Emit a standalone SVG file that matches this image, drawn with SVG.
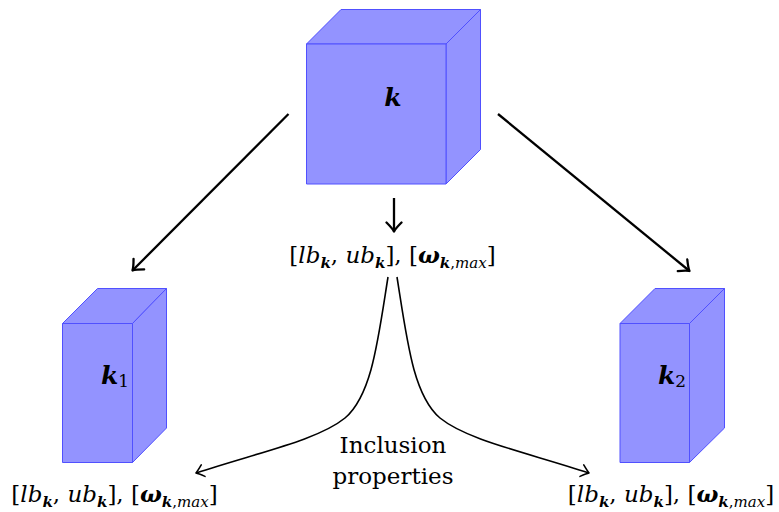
<svg xmlns="http://www.w3.org/2000/svg" width="779" height="512" viewBox="0 0 779 512">
<style>
.face{fill:#9393ff;stroke:#5050ff;stroke-width:1;stroke-linejoin:round}
text{fill:#000;font-family:'DejaVu Serif',serif}
.i{font-style:italic}
.bi{font-style:italic;font-weight:bold}
.thick{fill:none;stroke:#000;stroke-width:2.3}
.thin{fill:none;stroke:#000;stroke-width:1.6}
.hd{fill:none;stroke:#000;stroke-linecap:round;stroke-linejoin:round}
</style>
<defs>
<marker id="ah" markerUnits="userSpaceOnUse" viewBox="-11 -9 13 18" refX="0" refY="0" markerWidth="13" markerHeight="18" orient="auto">
<path class="hd" stroke-width="2.3" d="M-9,-7.5 Q-3,-1.5 0,0 Q-3,1.5 -9,7.5"/>
</marker>
<marker id="ahs" markerUnits="userSpaceOnUse" viewBox="-10 -8 12 16" refX="0" refY="0" markerWidth="12" markerHeight="16" orient="auto">
<path class="hd" stroke-width="1.6" d="M-7.5,-6 Q-2,-1.2 0,0 Q-2,1.2 -7.5,6"/>
</marker>
</defs>

<g id="cube-k">
<polygon class="face" points="306.5,44 341,9.5 480.5,9.5 446,44"/>
<polygon class="face" points="446,44 480.5,9.5 480.5,149.5 446,184"/>
<rect class="face" x="306.5" y="44" width="139.5" height="140"/>
<text x="393" y="106" class="bi" font-size="25" text-anchor="middle">k</text>
</g>

<g id="cube-k1">
<polygon class="face" points="62.5,323.5 97.5,288.5 166.5,288.5 132.5,323.5"/>
<polygon class="face" points="132.5,323.5 166.5,288.5 166.5,428 132.5,462.5"/>
<rect class="face" x="62.5" y="323.5" width="70" height="139"/>
<text x="101" y="384" font-size="25"><tspan class="bi">k</tspan><tspan font-size="17" dy="3">1</tspan></text>
</g>

<g id="cube-k2">
<polygon class="face" points="620,323.5 655,288.5 724.5,288.5 689.5,323.5"/>
<polygon class="face" points="689.5,323.5 724.5,288.5 724.5,428 689.5,462.5"/>
<rect class="face" x="620" y="323.5" width="69.5" height="139"/>
<text x="658" y="384" font-size="25"><tspan class="bi">k</tspan><tspan font-size="17" dy="3">2</tspan></text>
</g>

<g id="label-top">
<text x="392.5" y="263" font-size="23" text-anchor="middle">[<tspan class="i">lb</tspan><tspan class="bi" font-size="15" dy="5">k</tspan><tspan dy="-5">, </tspan><tspan class="i">ub</tspan><tspan class="bi" font-size="15" dy="5">k</tspan><tspan dy="-5">], [</tspan><tspan class="bi">ω</tspan><tspan font-size="15" dy="5"><tspan class="bi">k</tspan>,<tspan class="i">max</tspan></tspan><tspan dy="-5">]</tspan></text>
</g>

<g id="label-left">
<text x="114.5" y="502" font-size="23" text-anchor="middle">[<tspan class="i">lb</tspan><tspan class="bi" font-size="15" dy="5">k</tspan><tspan dy="-5">, </tspan><tspan class="i">ub</tspan><tspan class="bi" font-size="15" dy="5">k</tspan><tspan dy="-5">], [</tspan><tspan class="bi">ω</tspan><tspan font-size="15" dy="5"><tspan class="bi">k</tspan>,<tspan class="i">max</tspan></tspan><tspan dy="-5">]</tspan></text>
</g>

<g id="label-right">
<text x="671" y="502" font-size="23" text-anchor="middle">[<tspan class="i">lb</tspan><tspan class="bi" font-size="15" dy="5">k</tspan><tspan dy="-5">, </tspan><tspan class="i">ub</tspan><tspan class="bi" font-size="15" dy="5">k</tspan><tspan dy="-5">], [</tspan><tspan class="bi">ω</tspan><tspan font-size="15" dy="5"><tspan class="bi">k</tspan>,<tspan class="i">max</tspan></tspan><tspan dy="-5">]</tspan></text>
</g>

<g id="label-inclusion">
<text x="393" y="453" font-size="23" text-anchor="middle">Inclusion</text>
<text x="393" y="484" font-size="23" text-anchor="middle">properties</text>
</g>

<g id="connectors">
<line class="thick" x1="288.5" y1="114" x2="132.5" y2="270.5" marker-end="url(#ah)"/>
<line class="thick" x1="498" y1="114" x2="689.5" y2="271" marker-end="url(#ah)"/>
<line class="thick" x1="394" y1="198" x2="394" y2="231.5" marker-end="url(#ah)"/>
<path class="thin" d="M388,277 C378,340 372,395 345,418 C318,440 260,452 196,473" marker-end="url(#ahs)"/>
<path class="thin" d="M397,277 C407,340 413,395 440,418 C467,440 525,452 589,473" marker-end="url(#ahs)"/>
</g>
</svg>
